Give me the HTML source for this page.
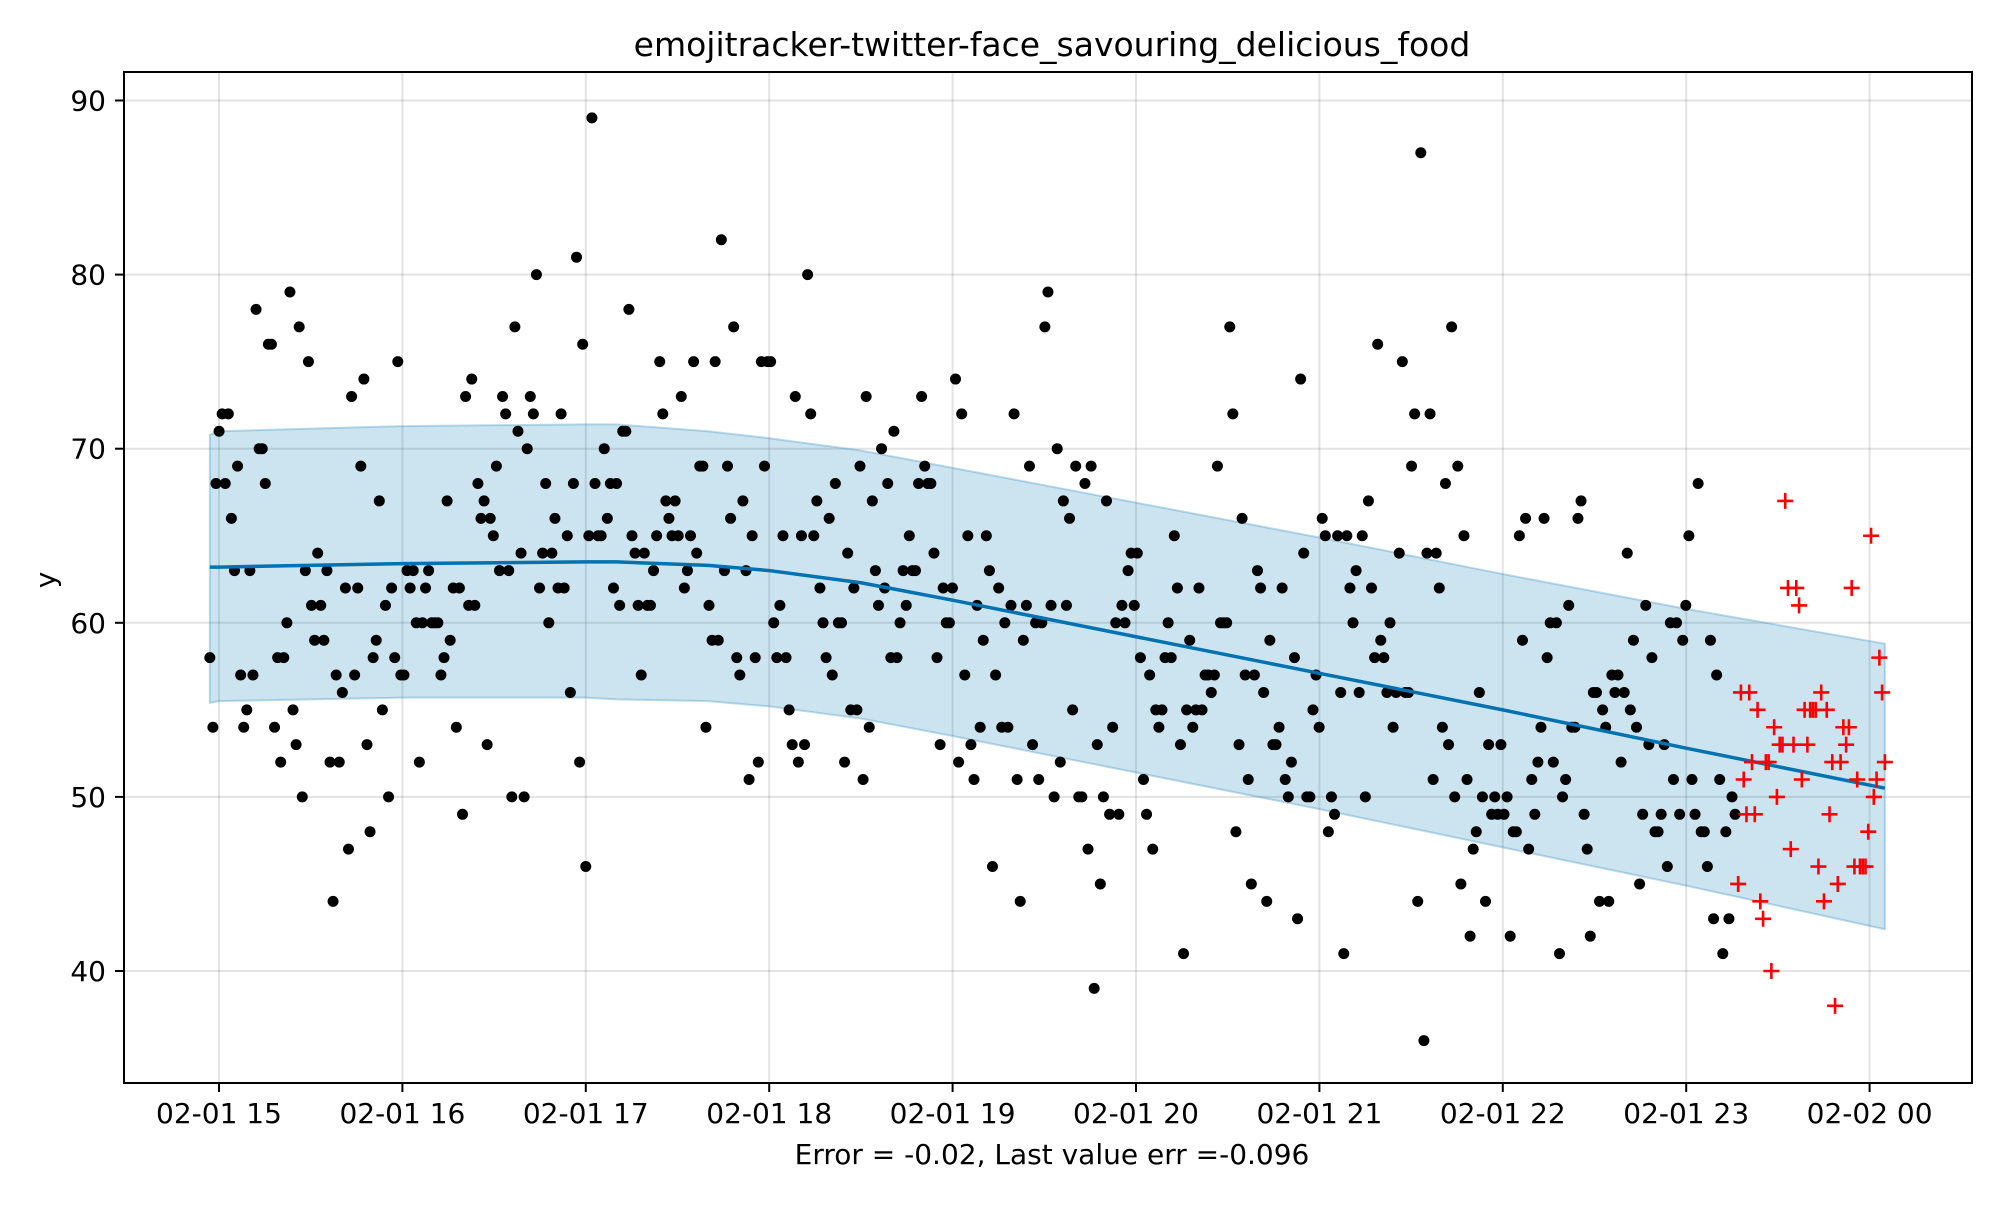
<!DOCTYPE html>
<html><head><meta charset="utf-8"><style>
body{margin:0;background:#fff}
svg text{font-family:"DejaVu Sans","Liberation Sans",sans-serif}
</style></head><body>
<svg id="chart" width="2000" height="1200" viewBox="0 0 2000 1200" xmlns="http://www.w3.org/2000/svg">
<rect width="2000" height="1200" fill="#fff"/>
<text x="1052" y="56" text-anchor="middle" font-size="33">emojitracker-twitter-face_savouring_delicious_food</text>
<g id="grid"></g>
<g id="band"></g>
<g id="pts"></g>
<g id="line"></g>
<g id="test"></g>
<g id="axes"></g>
<text x="55" y="580" text-anchor="middle" font-size="28" transform="rotate(-90 55 580)">y</text>
<text x="1052" y="1164" text-anchor="middle" font-size="28">Error = -0.02, Last value err =-0.096</text>
</svg>
<script>
const xTickLabels=["02-01 15","02-01 16","02-01 17","02-01 18","02-01 19","02-01 20","02-01 21","02-01 22","02-01 23","02-02 00"];
const xTickMinutes=[0,60,120,180,240,300,360,420,480,540];
const yTicks=[40,50,60,70,80,90];
const trainStart=-3, trainEnd=496, testStart=497, testEnd=545;
const trainValues=[58,54,68,71,72,68,72,66,63,69,57,54,55,63,57,78,70,70,68,76,76,54,58,52,58,60,79,55,53,77,50,63,75,61,59,64,61,59,63,52,44,57,52,56,62,47,73,57,62,69,74,53,48,58,59,67,55,61,50,62,58,75,57,57,63,62,63,60,52,60,62,63,60,60,60,57,58,67,59,62,54,62,49,73,61,74,61,68,66,67,53,66,65,69,63,73,72,63,50,77,71,64,50,70,73,72,80,62,64,68,60,64,66,62,72,62,65,56,68,81,52,76,46,65,89,68,65,65,70,66,68,62,68,61,71,71,78,65,64,61,57,64,61,61,63,65,75,72,67,66,65,67,65,73,62,63,65,75,64,69,69,54,61,59,75,59,82,63,69,66,77,58,57,67,63,51,65,58,52,75,69,75,75,60,58,61,65,58,55,53,73,52,65,53,80,72,65,67,62,60,58,66,57,68,60,60,52,64,55,62,55,69,51,73,54,67,63,61,70,62,68,58,71,58,60,63,61,65,63,63,68,73,69,68,68,64,58,53,62,60,60,62,74,52,72,57,65,53,51,61,54,59,65,63,46,57,62,54,60,54,61,72,51,44,59,61,69,53,60,51,60,77,79,61,50,70,52,67,61,66,55,69,50,50,68,47,69,39,53,45,50,67,49,54,60,49,61,60,63,64,61,64,58,51,49,57,47,55,54,55,58,60,58,65,62,53,41,55,59,54,55,62,55,57,57,56,57,69,60,60,60,77,72,48,53,66,57,51,45,57,63,62,56,44,59,53,53,54,62,51,50,52,58,43,74,64,50,50,55,57,54,66,65,48,50,49,65,56,41,65,62,60,63,56,65,50,67,62,58,76,59,58,56,60,54,56,64,75,56,56,69,72,44,87,36,64,72,51,64,62,54,68,53,77,50,69,45,65,51,42,47,48,56,50,44,53,49,50,49,53,49,50,42,48,48,65,59,66,47,51,49,52,54,66,58,60,52,60,41,50,51,61,54,54,66,67,49,47,42,56,56,44,55,54,44,57,56,57,52,56,64,55,59,54,45,49,61,53,58,48,48,49,53,46,60,51,60,49,59,61,65,51,49,68,48,48,46,59,43,57,51,41,48,43,50,49];
const testValues=[45,56,51,49,56,52,49,55,44,43,52,52,40,54,50,53,53,67,62,47,53,62,61,51,55,53,55,55,55,46,56,44,55,49,52,38,45,52,54,53,54,62,46,51,46,46,46,48,65,50,51,58,56,52];
const fcMinutes=[-3,0,60,120,130,160,180,210,240,300,360,420,480,545];
const fcYhat=[63.2,63.2,63.4,63.5,63.5,63.3,63.0,62.3,61.3,59.2,57.1,55.0,52.8,50.5];
const fcUpper=[70.8,71.0,71.3,71.4,71.4,71.0,70.6,69.9,68.9,66.9,64.9,62.8,60.8,58.8];
const fcLower=[55.4,55.5,55.7,55.7,55.6,55.5,55.2,54.5,53.5,51.4,49.3,47.1,44.9,42.4];

const NS="http://www.w3.org/2000/svg";
const L=124,R=1972,T=72,B=1083;
const xs=m=>219+m*(183.4/60);
const ys=v=>100.5+(90-v)*17.41;
function mk(tag,attrs,parent){const e=document.createElementNS(NS,tag);for(const k in attrs)e.setAttribute(k,attrs[k]);document.getElementById(parent).appendChild(e);return e;}

xTickMinutes.forEach((m,i)=>{
 const g=mk('line',{x1:xs(m),x2:xs(m),y1:T,y2:B,stroke:'rgba(0,0,0,0.11)','stroke-width':2},'grid');
 
 
 const t=mk('line',{x1:xs(m),x2:xs(m),y1:B,y2:B+9,stroke:'#000','stroke-width':2},'axes');
 
 
 const lb=mk('text',{x:xs(m),y:B+40,'text-anchor':'middle','font-size':28},'axes');
 lb.textContent=xTickLabels[i];
 
 
});
yTicks.forEach(v=>{
 const g=mk('line',{x1:L,x2:R,y1:ys(v),y2:ys(v),stroke:'rgba(0,0,0,0.11)','stroke-width':2},'grid');
 
 
 const t=mk('line',{x1:L-9,x2:L,y1:ys(v),y2:ys(v),stroke:'#000','stroke-width':2},'axes');
 
 
 const lb=mk('text',{x:L-18,y:ys(v)+10,'text-anchor':'end','font-size':28},'axes');
 lb.textContent=v;
 
 
});
const fr=mk('rect',{x:L,y:T,width:R-L,height:B-T,fill:'none',stroke:'#000','stroke-width':2},'axes');



let d=fcMinutes.map((m,i)=>(i?'L':'M')+xs(m)+','+ys(fcUpper[i])).join('');
for(let i=fcMinutes.length-1;i>=0;i--)d+='L'+xs(fcMinutes[i])+','+ys(fcLower[i]);
const band=mk('path',{d:d+'Z',fill:'rgba(0,114,178,0.2)',stroke:'rgba(0,114,178,0.25)','stroke-width':2},'band');


const ln=mk('path',{d:fcMinutes.map((m,i)=>(i?'L':'M')+xs(m)+','+ys(fcYhat[i])).join(''),fill:'none',stroke:'#0072B2','stroke-width':3.5,'stroke-linejoin':'round'},'line');



const trStep=(trainEnd-trainStart)/(trainValues.length-1);
trainValues.forEach((v,i)=>{
 const c=mk('circle',{cx:xs(trainStart+i*trStep),cy:ys(v),r:5.5,fill:'#000'},'pts');
 
 
});
const teStep=(testEnd-testStart)/(testValues.length-1);
testValues.forEach((v,i)=>{
 const x=xs(testStart+i*teStep),y=ys(v);
 const p=mk('path',{d:`M${x-8},${y}H${x+8}M${x},${y-8}V${y+8}`,stroke:'#f00','stroke-width':2.6,fill:'none'},'test');
 
 
});
</script>
</body></html>
